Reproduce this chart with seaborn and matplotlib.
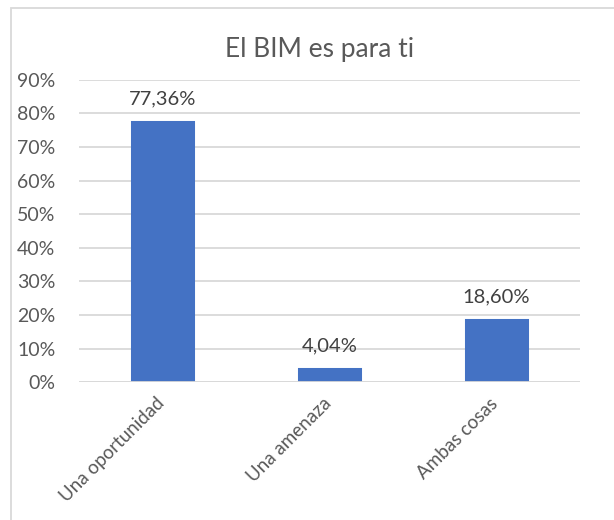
import matplotlib
matplotlib.use("Agg")
import matplotlib.pyplot as plt
import matplotlib.patches as patches
import matplotlib.transforms as mtransforms
import seaborn as sns
import pandas as pd

# ------------------------------
# datos
# ------------------------------
categorias = ["Una oportunidad", "Una amenaza", "Ambas cosas"]
porcentajes = [77.36, 4.04, 18.60]
ticks_y = [0, 10, 20, 30, 40, 50, 60, 70, 80, 90]

df = pd.DataFrame({"respuesta": categorias, "pct": porcentajes})

# ------------------------------
# estilo
# ------------------------------
sns.set_style("white")
plt.rcParams["font.family"] = ["Lato", "DejaVu Sans"]

AZUL = "#4472C4"
GRIS_TXT = "#595959"
GRIS_LBL = "#404040"
GRIS_LIN = "#D9D9D9"

fig = plt.figure(figsize=(6.14, 5.2), dpi=100)
ax = fig.add_axes([0.1287, 0.2648, 0.8159, 0.5819])

sns.barplot(data=df, x="respuesta", y="pct", color=AZUL, width=0.37,
            saturation=1, edgecolor=AZUL, linewidth=2.2, ax=ax, zorder=3)

ax.set_ylim(0, 90)
ax.set_yticks(ticks_y)
ax.set_yticklabels([f"{t}%" for t in ticks_y], fontsize=14, color=GRIS_TXT)
ax.set_xlim(-0.5, len(categorias) - 0.5)
ax.yaxis.grid(True, color=GRIS_LIN, linewidth=1.3, zorder=0)
ax.set_axisbelow(True)
ax.axhline(0, color=GRIS_LIN, linewidth=1.3, zorder=4)
ax.tick_params(axis="y", length=0, pad=17)
ax.tick_params(axis="x", length=0, pad=14)
for s in ax.spines.values():
    s.set_visible(False)

ax.set_xlabel("")
ax.set_ylabel("")
plt.setp(ax.get_xticklabels(), rotation=45, ha="right", va="top",
         rotation_mode="anchor", fontsize=13.5, color=GRIS_TXT)
# correr las etiquetas del eje x un poco a la izquierda
desplaz = mtransforms.ScaledTranslation(-0.07, 0.07, fig.dpi_scale_trans)
for lbl in ax.get_xticklabels():
    lbl.set_transform(lbl.get_transform() + desplaz)

# etiquetas de datos
for i, v in enumerate(porcentajes):
    etiqueta = f"{v:.2f}".replace(".", ",") + "%"
    ax.annotate(etiqueta, (i, v), xytext=(0, 12.5), textcoords="offset points",
                ha="center", va="baseline", fontsize=14.5, color=GRIS_LBL)

# titulo
fig.text(0.52, 0.891, "El BIM es para ti", ha="center", va="baseline",
         fontsize=19, color=GRIS_TXT)

# borde del grafico
borde = patches.Rectangle((11 / 614, -0.5), 2, 1 - 8 / 520 + 0.5,
                          transform=fig.transFigure, fill=False,
                          edgecolor=GRIS_LIN, linewidth=1.3)
fig.patches.append(borde)

fig.savefig("out.png", dpi=100)
